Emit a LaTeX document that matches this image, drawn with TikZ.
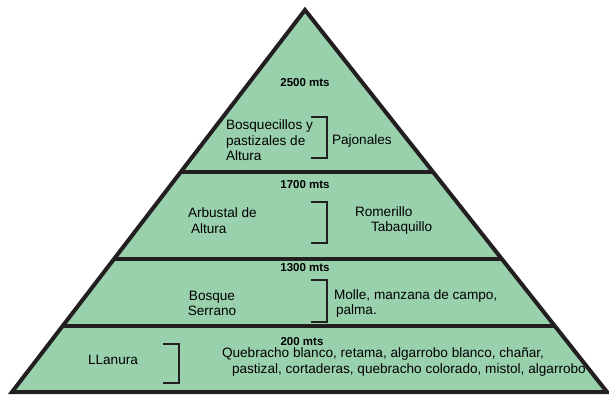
\documentclass[tikz,border=0pt]{standalone}
\usepackage{fontspec}
\setmainfont{Liberation Sans}
\usetikzlibrary{positioning}
\definecolor{zona}{RGB}{153,209,173}
\definecolor{borde}{RGB}{35,31,32}

\begin{document}
\begin{tikzpicture}[x=1pt, y=-1pt, every node/.style={inner sep=0pt, outer sep=0pt}, alt/.style={font=\bfseries\fontsize{11.5}{13}\selectfont}, lbl/.style={font=\fontsize{13.6}{15.5}\selectfont, align=left, anchor=west}, brk/.style={draw=borde, line width=2pt}, div/.style={draw=borde, line width=3.2pt}]
\useasboundingbox (0,0) rectangle (609,395);
\coordinate (apex) at (305,10);
\coordinate (bl) at (12,392);
\coordinate (br) at (607,392);
\fill[zona] (apex) -- (bl) -- (br) -- cycle;
\begin{scope}
\clip (apex) -- (bl) -- (br) -- cycle;
\draw[div] (0,172) -- (609,172);
\draw[div] (0,259) -- (609,259);
\draw[div] (0,326) -- (609,326);
\end{scope}
\draw[draw=borde, line width=4pt, line join=miter] (apex) -- (bl) -- (br) -- cycle;
% 2500 mts
\node[alt] (n2500) at (305,83) {2500 mts};
\node[lbl] (bosq) at (226,140.5) {Bosquecillos y\\pastizales de\\Altura};
\draw[brk] (311,117) -| (327,158) -- (311,158);
\node[lbl] (pajo) at (332,140.5) {Pajonales};
% 1700 mts
\node[alt] (n1700) at (305,185) {1700 mts};
\node[lbl] (arbu) at (188,220.5) {Arbustal de\\\hspace*{3pt}Altura};
\draw[brk] (311,202) -| (327,243) -- (311,243);
\node[lbl] (rome) at (355,220.5) {Romerillo\\\hspace*{16pt}Tabaquillo};
% 1300 mts
\node[alt] (n1300) at (305,268) {1300 mts};
\node[lbl, align=center, anchor=center] (serr) at (212,303.5) {Bosque\\Serrano};
\draw[brk] (311,280) -| (327,322) -- (311,322);
\node[lbl] (moll) at (334,303.5) {Molle, manzana de campo,\\\hspace*{2pt}palma.};
% 200 mts
\node[alt] (n200) at (302,342) {200 mts};
\node[lbl, anchor=center] (llan) at (113,360) {LLanura};
\draw[brk] (163,344) -| (179,383) -- (163,383);
\node[lbl] (queb) at (222,362) {Quebracho blanco, retama, algarrobo blanco, chañar,\\\hspace*{10pt}pastizal, cortaderas, quebracho colorado, mistol, algarrobo};
\end{tikzpicture}
\end{document}
